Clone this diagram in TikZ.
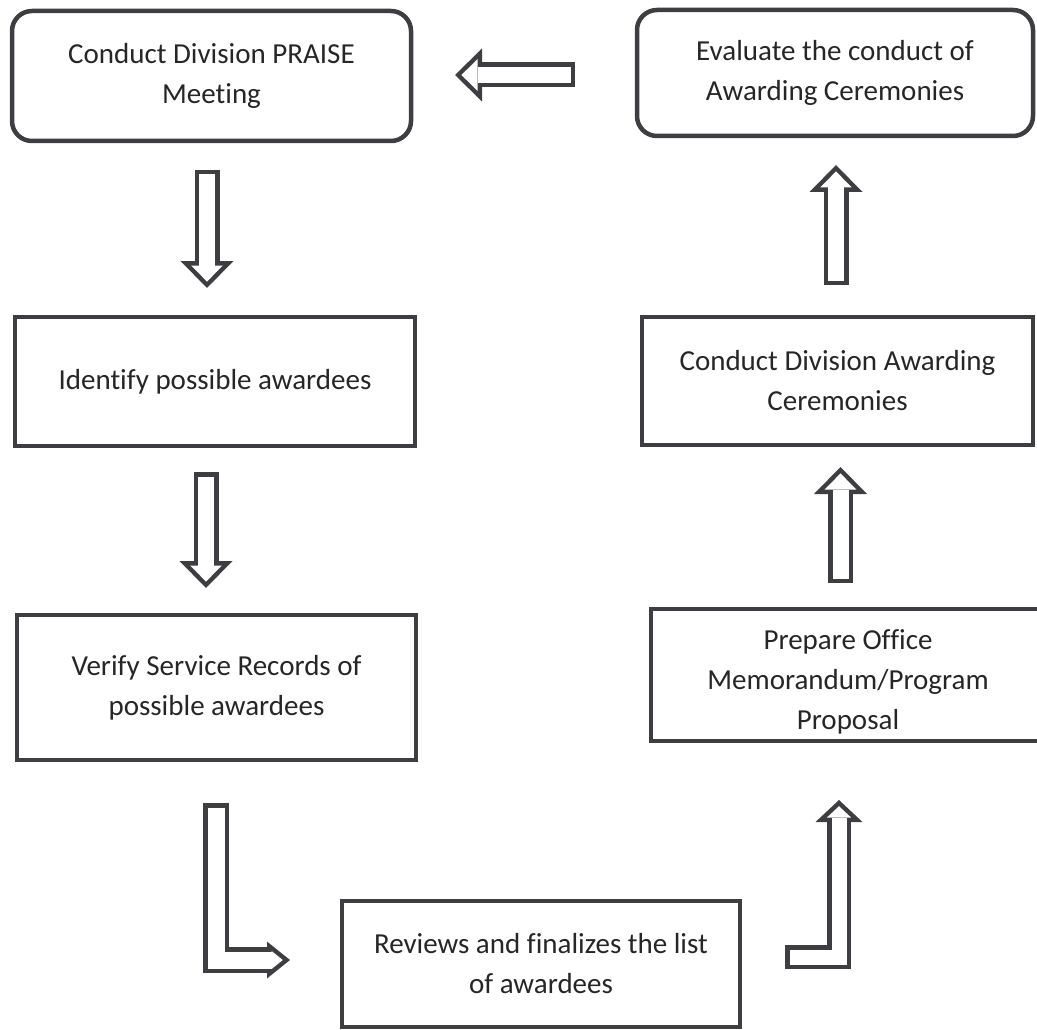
\documentclass[tikz,border=0pt]{standalone}
\usepackage{fontspec}
\setmainfont{Carlito}[Ligatures=NoCommon]
\usetikzlibrary{arrows.meta,positioning}
\definecolor{edgegray}{RGB}{62,62,66}
\definecolor{textgray}{RGB}{38,38,38}
\tikzstyle{box} = [draw=edgegray, line width=4.5pt, outer sep=0pt, inner sep=0pt, align=center, text=textgray, font=\fontsize{29}{40}\selectfont]
\tikzstyle{roundbox} = [box, rounded corners=20pt]
% hollow block arrows: dark body, white inside
\tikzstyle{bigout} = [color=edgegray, line width=25pt, line join=miter, -{Triangle[width=53pt,length=27pt,line width=0pt]}]
\tikzstyle{bigin} = [color=white, line width=16pt, line join=miter, shorten <=4.5pt, shorten >=6.4pt, -{Triangle[width=31.6pt,length=16.1pt,line width=0pt]}]
\tikzstyle{lleftout} = [color=edgegray, line width=26pt, line join=miter, -{Triangle[width=37pt,length=23pt,line width=0pt]}]
\tikzstyle{lleftin} = [color=white, line width=17pt, line join=miter, shorten <=4.5pt, shorten >=7.2pt, -{Triangle[width=18.2pt,length=11.3pt,line width=0pt]}]
\tikzstyle{lrightout} = [color=edgegray, line width=24pt, line join=miter, -{Triangle[width=47pt,length=22pt,line width=0pt]}]
\tikzstyle{lrightin} = [color=white, line width=15pt, line join=miter, shorten <=4.5pt, shorten >=6.2pt, -{Triangle[width=24.2pt,length=11.3pt,line width=0pt]}]
\newcommand{\hollowflow}[2]{\draw[#1out] #2; \draw[#1in] #2;}

\begin{document}
\begin{tikzpicture}[x=1pt, y=-1pt]
    \useasboundingbox (0,0) rectangle (1037,1030);
    \clip (0,0) rectangle (1037,1030);
    % left column
    \node[roundbox, minimum width=399pt, minimum height=130pt] (meet) at (211.5,76) {Conduct Division PRAISE\\Meeting};
    \node[box, minimum width=400pt, minimum height=129pt] (identify) at (215,381.5) {Identify possible awardees};
    \node[box, minimum width=399pt, minimum height=145pt] (verify) at (216.5,687.5) {Verify Service Records of\\possible awardees};
    % bottom
    \node[box, minimum width=398pt, minimum height=126pt] (review) at (541,964) {Reviews and finalizes the list\\of awardees};
    % right column
    \node[box, minimum width=394pt, minimum height=132pt] (prepare) at (848,675) {\rule{0pt}{33pt}Prepare Office\\Memorandum/Program\\Proposal};
    \node[box, minimum width=391pt, minimum height=128pt] (ceremony) at (837.5,381) {Conduct Division Awarding\\Ceremonies};
    \node[roundbox, minimum width=396pt, minimum height=126pt] (evaluate) at (835,73) {Evaluate the conduct of\\Awarding Ceremonies};

    % arrows
    \hollowflow{big}{([xshift=-4.5,yshift=-29]meet.south) -- ([xshift=-8,yshift=29]identify.north)}
    \hollowflow{big}{([xshift=-9,yshift=-26]identify.south) -- ([xshift=-10.5,yshift=27]verify.north)}
    \hollowflow{lleft}{([xshift=-0.5,yshift=-43]verify.south) |- ([xshift=-52,yshift=4]review.west)}
    \hollowflow{lright}{([xshift=45,yshift=7]review.east) -| ([xshift=-9,yshift=-59]prepare.south)}
    \hollowflow{big}{([xshift=-7.5,yshift=26]prepare.north) -- ([xshift=3,yshift=-22]ceremony.south)}
    \hollowflow{big}{([xshift=-1.5,yshift=32]ceremony.north) -- ([xshift=1,yshift=-29]evaluate.south)}
    \hollowflow{big}{([xshift=-62,yshift=-2]evaluate.west) -- ([xshift=44,yshift=1]meet.east)}
\end{tikzpicture}
\end{document}
